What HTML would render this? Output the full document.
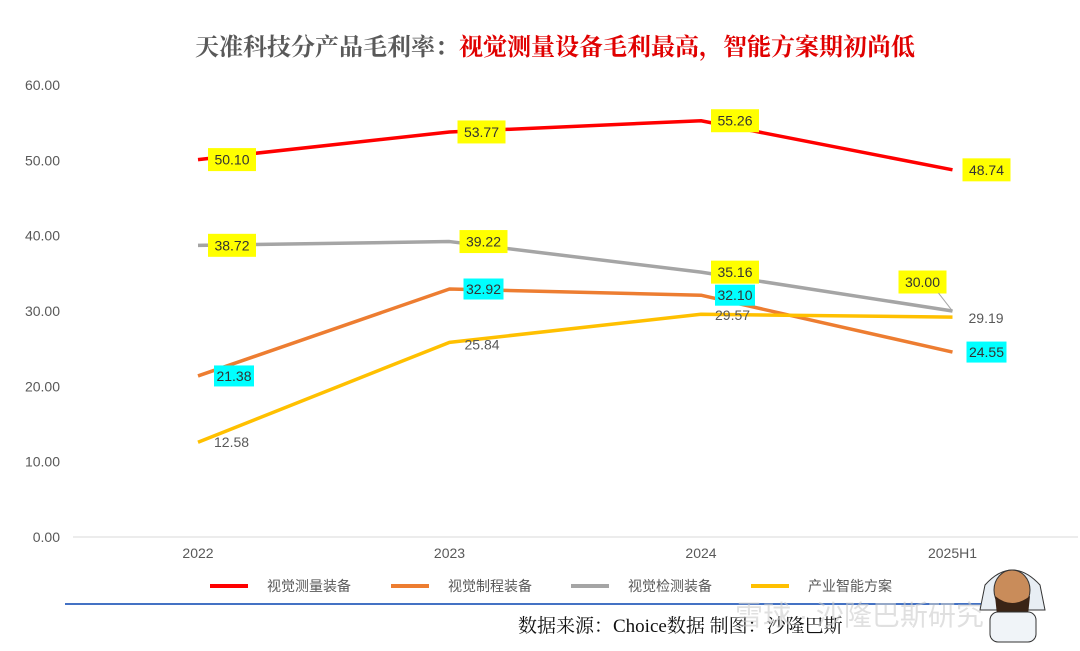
<!DOCTYPE html>
<html><head><meta charset="utf-8"><style>
body{margin:0;background:#fff;width:1080px;height:651px;overflow:hidden;position:relative;font-family:"Liberation Sans","Noto Sans CJK SC",sans-serif}
</style></head><body>
<svg id="c" width="1080" height="651" style="position:absolute;left:0;top:0">
<text x="555" y="55" text-anchor="middle" font-family="Liberation Serif,Noto Serif CJK SC,serif" font-size="24" font-weight="bold"><tspan fill="#595959">天准科技分产品毛利率：</tspan><tspan fill="#e00000">视觉测量设备毛利最高，智能方案期初尚低</tspan></text>
<g id="axes"></g><g id="marks"></g><g id="lbls"></g>
<line x1="65" y1="604" x2="1000" y2="604" stroke="#4472c4" stroke-width="2"/>
<text x="518" y="632" font-family="Liberation Serif,Noto Serif CJK SC,serif" font-size="19" fill="#111">数据来源：Choice数据  制图：沙隆巴斯</text>
<text x="735" y="625" font-size="28" fill="#ccc" opacity="0.6">雪球 · 沙隆巴斯研究</text>
<g>
<path d="M985 585 Q1012 555 1040 585 L1045 610 L980 610 Z" fill="#e8eef4" stroke="#333"/>
<ellipse cx="1012" cy="590" rx="18" ry="20" fill="#c98c5a" stroke="#333"/>
<path d="M995 596 Q1012 610 1030 596 L1028 615 Q1012 625 997 615 Z" fill="#3a2416"/>
<rect x="990" y="612" width="46" height="30" rx="8" fill="#f0f4f8" stroke="#333"/>
</g>
</svg>
<script>
const categories=["2022","2023","2024","2025H1"];
const seriesNames=["视觉测量装备","视觉制程装备","视觉检测装备","产业智能方案"];
const measure=[50.10,53.77,55.26,48.74];
const process=[21.38,32.92,32.10,24.55];
const inspect=[38.72,39.22,35.16,30.00];
const solution=[12.58,25.84,29.57,29.19];
const yTicks=[0,10,20,30,40,50,60];
const NS="http://www.w3.org/2000/svg";
const x=i=>198+i*251.5, y=v=>537-v*7.533;
function mk(p,t,a){const e=document.createElementNS(NS,t);for(const k in a)e.setAttribute(k,a[k]);p.appendChild(e);return e;}
const ax=document.getElementById('axes'),mg=document.getElementById('marks'),lg=document.getElementById('lbls');
yTicks.forEach(v=>{const t=mk(ax,'text',{x:60,y:y(v)+5,'text-anchor':'end','font-size':14,fill:'#595959'});t.textContent=v.toFixed(2);

});
const base=mk(ax,'line',{x1:73,x2:1078,y1:y(0),y2:y(0),stroke:'#d9d9d9'});


categories.forEach((c,i)=>{const t=mk(ax,'text',{x:x(i),y:558,'text-anchor':'middle','font-size':14,fill:'#595959'});t.textContent=c;

});
const S=[
 {d:measure,c:'#ff0000',bg:'#ffff00',off:[[10,0],[8,0],[10,0],[10,0]]},
 {d:process,c:'#ed7d31',bg:'#00ffff',off:[[16,0],[14,0],[14,0],[14,0]]},
 {d:inspect,c:'#a5a5a5',bg:'#ffff00',off:[[10,0],[10,0],[10,0],[-54,-29]]},
 {d:solution,c:'#ffc000',bg:null,off:[[16,0],[15,2],[14,1],[16,1]]}];
S.forEach((s,si)=>{
 const pl=mk(mg,'polyline',{points:s.d.map((v,i)=>x(i)+','+y(v)).join(' '),fill:'none',stroke:s.c,'stroke-width':3.5,'stroke-linejoin':'round'});
 
 
 s.d.forEach((v,i)=>{const lx=x(i)+s.off[i][0],ly=y(v)+s.off[i][1];const txt=v.toFixed(2);
  if(s.bg){const w=s.bg=='#00ffff'?40:48,h=s.bg=='#00ffff'?21:23;
   const r=mk(lg,'rect',{x:lx,y:ly-h/2,width:w,height:h,fill:s.bg});
   
   }
  if(si==2&&i==3){const l=mk(lg,'line',{x1:lx+40,y1:ly+11,x2:x(i),y2:y(v),stroke:'#a5a5a5'});
   
   }
  const t=mk(lg,'text',{x:lx+(s.bg?(s.bg=='#00ffff'?20:24):0),y:ly+5,'text-anchor':s.bg?'middle':'start','font-size':14,fill:s.bg?'#333':'#595959'});t.textContent=txt;
  
  });
});
const lx=[210,391,571,751];
seriesNames.forEach((n,i)=>{const l=mk(ax,'line',{x1:lx[i],x2:lx[i]+38,y1:586,y2:586,stroke:S[i].c,'stroke-width':4});
 
 
 const t=mk(ax,'text',{x:lx[i]+57,y:591,'font-size':14,fill:'#595959'});t.textContent=n;
 
 });
</script>
</body></html>
